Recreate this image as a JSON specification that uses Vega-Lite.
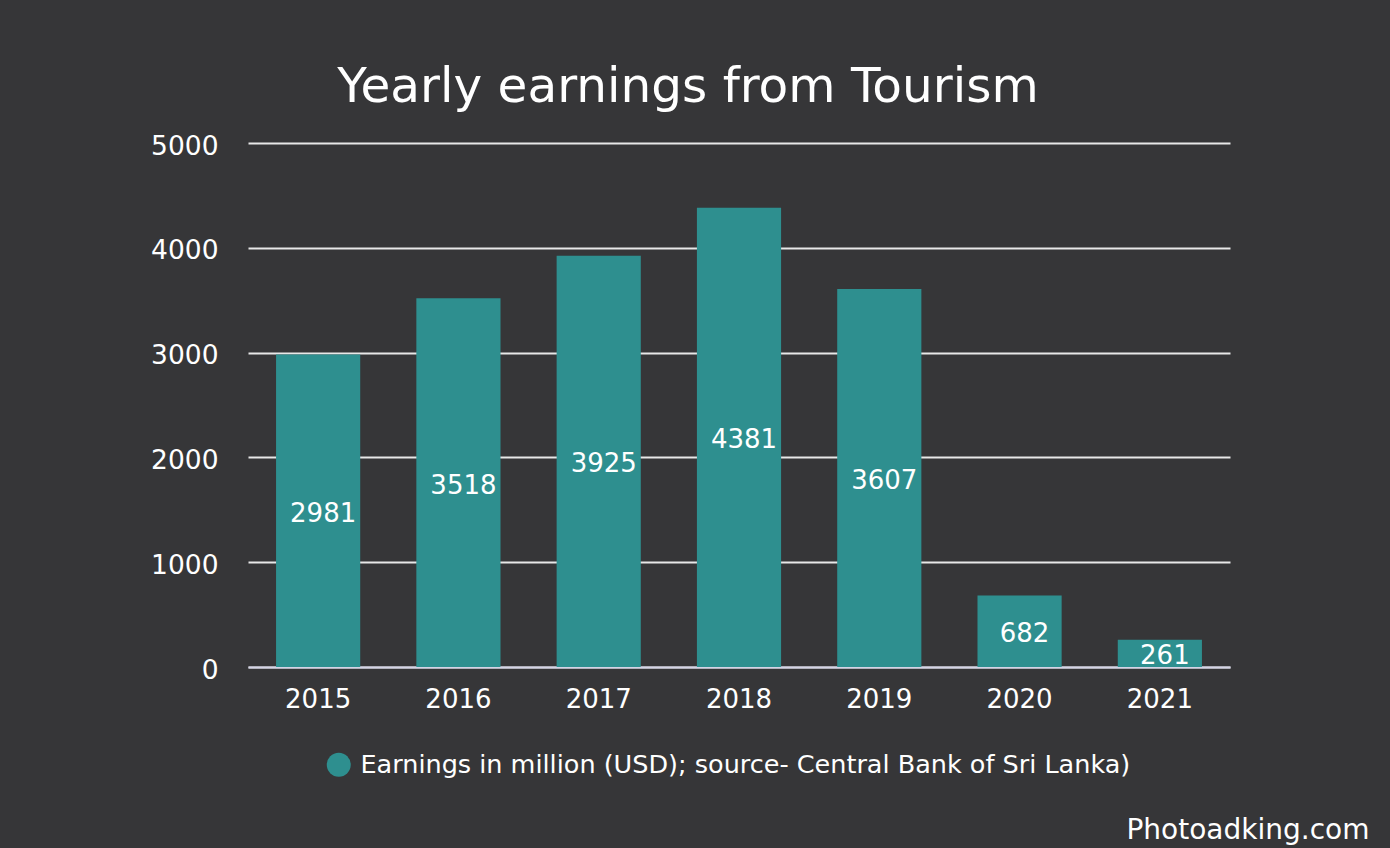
{
  "$schema": "https://vega.github.io/schema/vega-lite/v6.json",
  "width": 982,
  "height": 524,
  "autosize": {"type": "none"},
  "padding": {"left": 248, "top": 143, "right": 160, "bottom": 181},
  "background": "#363638",
  "title": {
    "text": "Yearly earnings from Tourism",
    "font": "DejaVu Sans",
    "fontSize": 48.5,
    "fontWeight": "normal",
    "color": "#ffffff",
    "anchor": "middle",
    "frame": "group",
    "dx": -51,
    "offset": 21
  },
  "config": {
    "view": {"stroke": null},
    "font": "DejaVu Sans",
    "axis": {"labelFont": "DejaVu Sans", "titleFont": "DejaVu Sans"},
    "legend": {"labelFont": "DejaVu Sans"}
  },
  "data": {
    "values": [
      {"year": "2015", "value": 2981, "series": "Earnings in million (USD); source- Central Bank of Sri Lanka)"},
      {"year": "2016", "value": 3518, "series": "Earnings in million (USD); source- Central Bank of Sri Lanka)"},
      {"year": "2017", "value": 3925, "series": "Earnings in million (USD); source- Central Bank of Sri Lanka)"},
      {"year": "2018", "value": 4381, "series": "Earnings in million (USD); source- Central Bank of Sri Lanka)"},
      {"year": "2019", "value": 3607, "series": "Earnings in million (USD); source- Central Bank of Sri Lanka)"},
      {"year": "2020", "value": 682, "series": "Earnings in million (USD); source- Central Bank of Sri Lanka)"},
      {"year": "2021", "value": 261, "series": "Earnings in million (USD); source- Central Bank of Sri Lanka)"}
    ]
  },
  "encoding": {
    "x": {
      "field": "year",
      "type": "nominal",
      "scale": {"paddingInner": 0.4, "paddingOuter": 0.2},
      "axis": {
        "title": "Photoadking.com",
        "titleColor": "#ffffff",
        "titleFontSize": 28,
        "titleFontWeight": "normal",
        "titleAnchor": "end",
        "titleAlign": "right",
        "titleBaseline": "alphabetic",
        "titleX": 1121,
        "titleY": 171,
        "labelAngle": 0,
        "labelColor": "#ffffff",
        "labelFontSize": 26,
        "labelPadding": 19,
        "ticks": false,
        "domainColor": "#d4d4e6",
        "domainWidth": 2,
        "grid": false
      }
    }
  },
  "layer": [
    {
      "mark": {"type": "bar"},
      "encoding": {
        "y": {
          "field": "value",
          "type": "quantitative",
          "scale": {"domain": [0, 5000]},
          "axis": {
            "title": null,
            "format": "d",
            "values": [0, 1000, 2000, 3000, 4000, 5000],
            "labelColor": "#ffffff",
            "labelFontSize": 26.5,
            "labelPadding": 30,
            "labelOffset": 3,
            "ticks": false,
            "domain": false,
            "gridColor": "#e8e8e8",
            "gridWidth": 2
          }
        },
        "color": {
          "field": "series",
          "type": "nominal",
          "scale": {"range": ["#2e8f8f"]},
          "legend": {
            "title": null,
            "orient": "none",
            "legendX": 78,
            "legendY": 609,
            "symbolType": "circle",
            "symbolSize": 576,
            "symbolStrokeWidth": 0,
            "labelColor": "#ffffff",
            "labelFontSize": 25.5,
            "labelLimit": 1000,
            "labelOffset": 9
          }
        }
      }
    },
    {
      "transform": [{"calculate": "datum.value / 2", "as": "mid"}],
      "mark": {"type": "text", "color": "#ffffff", "fontSize": 26, "baseline": "middle", "dy": 3, "dx": 5, "font": "DejaVu Sans"},
      "encoding": {
        "y": {"field": "mid", "type": "quantitative"},
        "text": {"field": "value", "type": "quantitative"}
      }
    }
  ]
}
